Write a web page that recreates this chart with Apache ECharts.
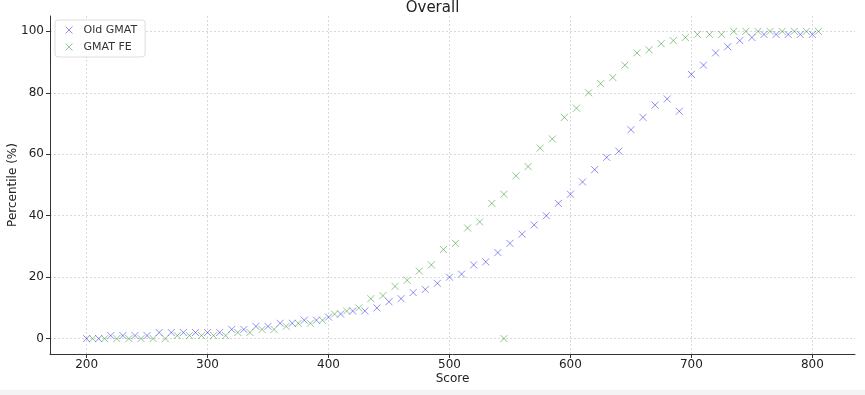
<!DOCTYPE html>
<html>
<head>
<meta charset="utf-8">
<script src="https://cdn.jsdelivr.net/npm/echarts@6/dist/echarts.min.js"></script>
<style>html,body{margin:0;padding:0;background:#fff}#c{width:865px;height:395px}</style>
</head>
<body>
<div id="c"></div>
<script>
const oldScores = [200,210,220,230,240,250,260,270,280,290,300,310,320,330,340,350,360,370,380,390,400,410,420,430,440,450,460,470,480,490,500,510,520,530,540,550,560,570,580,590,600,610,620,630,640,650,660,670,680,690,700,710,720,730,740,750,760,770,780,790,800];
const oldPct = [0,0,1,1,1,1,2,2,2,2,2,2,3,3,4,4,5,5,6,6,7,8,9,9,10,12,13,15,16,18,20,21,24,25,28,31,34,37,40,44,47,51,55,59,61,68,72,76,78,74,86,89,93,95,97,98,99,99,99,99,99];
const feScores = [205,215,225,235,245,255,265,275,285,295,305,315,325,335,345,355,365,375,385,395,405,415,425,435,445,455,465,475,485,495,505,515,525,535,545,545,555,565,575,585,595,605,615,625,635,645,655,665,675,685,695,705,715,725,735,745,755,765,775,785,795,805];
const fePct = [0,0,0,0,0,0,0,1,1,1,1,1,2,2,3,3,4,5,5,6,8,9,10,13,14,17,19,22,24,29,31,36,38,44,47,0,53,56,62,65,72,75,80,83,85,89,93,94,96,97,98,99,99,99,100,100,100,100,100,100,100,100];
const xTicks = [200,300,400,500,600,700,800];
const yTicks = [0,20,40,60,80,100];
const seriesNames = ['Old GMAT','GMAT FE'];
const seriesColors = ['rgba(0,0,230,0.55)','rgba(0,128,0,0.55)'];

const xMark = 'path://M0,0L10,10M10,0L0,10';
const font = 'DejaVu Sans';
const chart = echarts.init(document.getElementById('c'));
function mk(name, xs, ys, color){
  return {
    name: name, type: 'scatter',
    data: xs.map((x,i)=>[x, ys[i]]),
    symbol: xMark, symbolSize: 7,
    itemStyle: {color: 'none', borderColor: color, borderWidth: 1},
    emphasis: {disabled: true}
  };
}
chart.setOption({
  animation: false,
  backgroundColor: '#fff',
  graphic: [{type: 'rect', left: 0, bottom: 0, shape: {width: 865, height: 5}, style: {fill: '#f4f4f4'}, silent: true}],
  title: {text: 'Overall', left: 'center', top: -4, textStyle: {fontFamily: font, fontSize: 15, fontWeight: 'normal', color: '#222'}},
  legend: {
    data: seriesNames.map((n,i)=>({name: n, icon: xMark, itemStyle: {color: 'none', borderColor: seriesColors[i], borderWidth: 1}})),
    orient: 'vertical', left: 55, top: 20, itemWidth: 7, itemHeight: 7, itemGap: 5,
    padding: [4, 8, 4, 8], borderColor: '#ddd', borderWidth: 1, borderRadius: 3, backgroundColor: '#fff',
    textStyle: {fontFamily: font, fontSize: 11, color: '#333', padding: [0,0,0,6]}
  },
  grid: {left: 50, right: 10, top: 16, bottom: 41, containLabel: false, outerBoundsMode: 'none'},
  xAxis: {
    type: 'value', min: 169.75, max: 835.25,
    name: 'Score', nameLocation: 'middle', nameGap: 19, nameMoveOverlap: false,
    nameTextStyle: {fontFamily: font, fontSize: 12, color: '#222'},
    axisLine: {show: true, onZero: false, lineStyle: {color: '#333', width: 1}},
    axisTick: {show: true, customValues: xTicks, length: 4, lineStyle: {color: '#333'}},
    axisLabel: {customValues: xTicks, fontFamily: font, fontSize: 12, color: '#222', margin: 5},
    splitLine: {show: true, lineStyle: {color: '#d0d0d0', type: [2,2], width: 0.8}}
  },
  yAxis: {
    type: 'value', min: -5, max: 105,
    name: 'Percentile (%)', nameLocation: 'middle', nameGap: 31, nameRotate: 90, nameMoveOverlap: false,
    nameTextStyle: {fontFamily: font, fontSize: 12, color: '#222'},
    axisLine: {show: true, onZero: false, lineStyle: {color: '#333', width: 1}},
    axisTick: {show: true, customValues: yTicks, length: 4, lineStyle: {color: '#333'}},
    axisLabel: {customValues: yTicks, fontFamily: font, fontSize: 12, color: '#222', margin: 6},
    splitLine: {show: true, lineStyle: {color: '#d0d0d0', type: [2,2], width: 0.8}}
  },
  series: [
    mk(seriesNames[0], oldScores, oldPct, seriesColors[0]),
    mk(seriesNames[1], feScores, fePct, seriesColors[1])
  ]
});
</script>
</body>
</html>
